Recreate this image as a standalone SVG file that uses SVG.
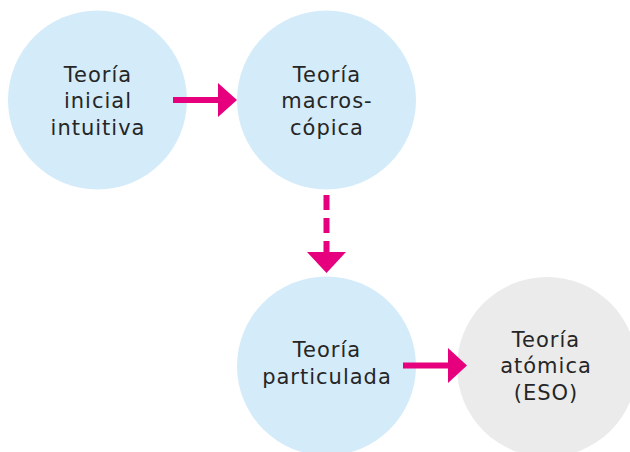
<svg xmlns="http://www.w3.org/2000/svg" width="630" height="452" viewBox="0 0 630 452">
<style>
.blue{fill:#d4ebfa}
.gray{fill:#ebebeb}
.t{font-family:"DejaVu Sans","Liberation Sans",sans-serif;font-size:21px;letter-spacing:1px;fill:#262626;text-anchor:middle}
.sh{stroke:#e6007e;stroke-width:6;fill:none}
.hd{fill:#e6007e}
</style>
<rect width="630" height="452" fill="#fff"/>
<g id="n1">
<circle class="blue" cx="97.5" cy="100" r="89.5"/>
<text class="t" x="98" y="82">Teoría</text>
<text class="t" x="98" y="108">inicial</text>
<text class="t" x="98" y="135">intuitiva</text>
</g>
<g id="n2">
<circle class="blue" cx="326.5" cy="100" r="89.5"/>
<text class="t" x="327" y="82">Teoría</text>
<text class="t" x="327" y="108">macros-</text>
<text class="t" x="327" y="135">cópica</text>
</g>
<g id="n3">
<circle class="blue" cx="326.5" cy="366" r="89.5"/>
<text class="t" x="327" y="357">Teoría</text>
<text class="t" x="327" y="384">particulada</text>
</g>
<g id="n4">
<circle class="gray" cx="547" cy="367" r="90"/>
<text class="t" x="546" y="347">Teoría</text>
<text class="t" x="546" y="373">atómica</text>
<text class="t" x="546" y="400">(ESO)</text>
</g>
<g id="connectors">
<line class="sh" x1="173" y1="100" x2="220" y2="100"/>
<polygon class="hd" points="218,83 237,100 218,117"/>
<line class="sh" x1="326.5" y1="195" x2="326.5" y2="254" stroke-dasharray="15 8"/>
<polygon class="hd" points="307,252 346,252 326.5,273"/>
<line class="sh" x1="403" y1="365.5" x2="450" y2="365.5"/>
<polygon class="hd" points="448,348 467,365.5 448,383"/>
</g>
</svg>
